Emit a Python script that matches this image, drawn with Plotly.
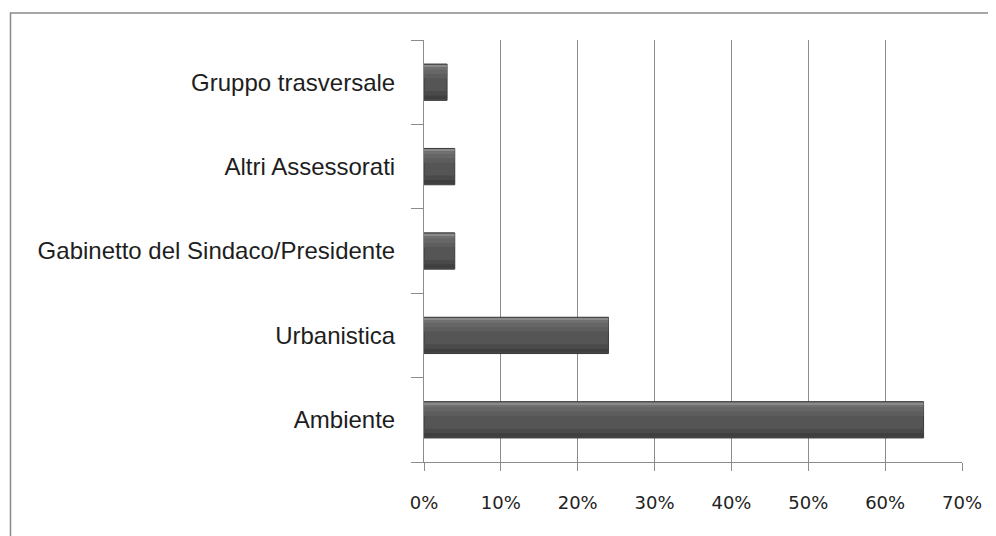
import plotly.graph_objects as go

categories = ["Ambiente", "Urbanistica", "Gabinetto del Sindaco/Presidente",
              "Altri Assessorati", "Gruppo trasversale"]
values = [65, 24, 4, 4, 3]
x_ticks = [0, 10, 20, 30, 40, 50, 60, 70]
x_tick_labels = ["0%", "10%", "20%", "30%", "40%", "50%", "60%", "70%"]

# page body has an 8px margin; figure coordinates are offset accordingly
W, H = 996, 536
ML, MR, MT, MB = 416, 42, 32, 82
pw, ph = W - ML - MR, H - MT - MB

fig = go.Figure()
bw = 0.43
# bar body
fig.add_trace(go.Bar(x=values, y=categories, orientation="h", width=bw, offset=-bw / 2,
                     marker=dict(color="#555555", line=dict(color="#3a3a3a", width=1)),
                     hoverinfo="skip", showlegend=False))
# shading bands (bottom dark -> top light)
bands = [(-bw / 2 + 0.01, 0.05, "#3f3f3f"),
         (-bw / 2 + 0.06, 0.05, "#4a4a4a"),
         (bw / 2 - 0.17, 0.05, "#5d5d5d"),
         (bw / 2 - 0.12, 0.05, "#666666"),
         (bw / 2 - 0.07, 0.04, "#707070"),
         (bw / 2 - 0.03, 0.02, "#8a8a8a")]
for off, w, c in bands:
    fig.add_trace(go.Bar(x=values, y=categories, orientation="h", width=w, offset=off,
                         marker=dict(color=c, line=dict(width=0)),
                         hoverinfo="skip", showlegend=False))

fig.update_layout(
    width=W, height=H,
    margin=dict(l=ML, r=MR, t=MT, b=MB),
    paper_bgcolor="white", plot_bgcolor="white",
    barmode="overlay",
    showlegend=False,
    xaxis=dict(range=[0, 70], tickvals=x_ticks, ticktext=x_tick_labels,
               showgrid=True, gridcolor="#8c8c8c", gridwidth=1,
               showline=True, linecolor="#8c8c8c", linewidth=1,
               ticks="outside", ticklen=8, tickcolor="#8c8c8c",
               ticklabelstandoff=16,
               tickfont=dict(family="DejaVu Sans", size=18, color="#222222"),
               zeroline=False, fixedrange=True),
    yaxis=dict(categoryorder="array", categoryarray=categories, range=[-0.5, 4.5],
               showline=True, linecolor="#8c8c8c", linewidth=1,
               ticks="outside", tickson="boundaries", ticklen=12, tickcolor="#8c8c8c",
               ticklabelstandoff=23,
               tickfont=dict(family="Liberation Sans", size=24, color="#1e1e1e"),
               showgrid=False, zeroline=False, fixedrange=True),
    shapes=[dict(type="rect", xref="paper", yref="paper",
                 x0=(2.5 - ML) / pw, x1=(W + 30 - ML) / pw,
                 y0=-(MB + 30) / ph, y1=(H - 5 - MB) / ph,
                 line=dict(color="#8a8a8a", width=1.5), layer="below")],
)

fig.write_html("out.html")
